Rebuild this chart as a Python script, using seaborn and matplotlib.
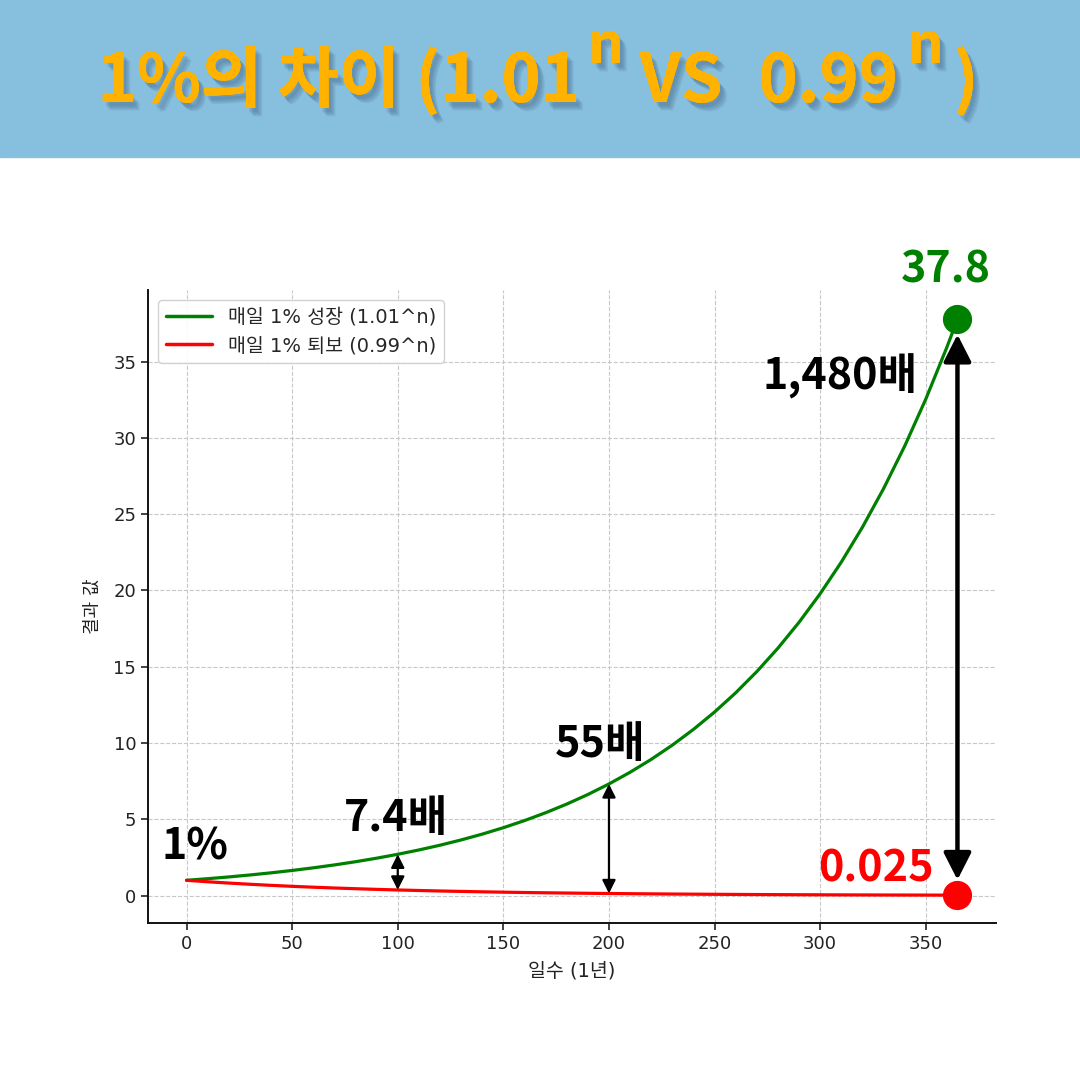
import numpy as np
import pandas as pd
import matplotlib
matplotlib.use("Agg")
import matplotlib.pyplot as plt
import matplotlib.patheffects as pe
from matplotlib.patches import Rectangle
import seaborn as sns

# ── data ────────────────────────────────────────────────────────────────────
days = [0, 10, 20, 30, 40, 50, 60, 70, 80, 90, 100, 110, 120, 130, 140, 150,
        160, 170, 180, 190, 200, 210, 220, 230, 240, 250, 260, 270, 280, 290,
        300, 310, 320, 330, 340, 350, 360, 365]
growth = [1.000, 1.105, 1.220, 1.348, 1.489, 1.645, 1.817, 2.007, 2.217, 2.449,
          2.705, 2.988, 3.300, 3.646, 4.027, 4.448, 4.914, 5.428, 5.996, 6.623,
          7.316, 8.082, 8.927, 9.861, 10.893, 12.032, 13.291, 14.682, 16.218,
          17.914, 19.789, 21.859, 24.146, 26.672, 29.462, 32.545, 35.950, 37.783]
decline = [1.000, 0.904, 0.818, 0.740, 0.669, 0.605, 0.547, 0.495, 0.448, 0.405,
           0.366, 0.331, 0.299, 0.271, 0.245, 0.221, 0.200, 0.181, 0.164, 0.148,
           0.134, 0.121, 0.110, 0.099, 0.090, 0.081, 0.073, 0.066, 0.060, 0.054,
           0.049, 0.044, 0.040, 0.036, 0.033, 0.030, 0.027, 0.0255]

LABEL_UP   = "매일 1% 성장 (1.01^n)"
LABEL_DOWN = "매일 1% 퇴보 (0.99^n)"
arrow_days   = [100, 200]
arrow_labels = ["7.4배", "55배"]
end_label_up, end_label_down, end_ratio = "37.8", "0.025", "1,480배"

GREEN, RED = "#008000", "#ff0000"
BANNER, TITLE_C = "#87bfdf", "#ffb300"
CJK = ["Noto Sans CJK KR", "DejaVu Sans"]
LATIN_FIRST = ["DejaVu Sans", "Noto Sans CJK KR"]

# ── style ───────────────────────────────────────────────────────────────────
sns.set_style("ticks")
plt.rcParams["font.family"] = LATIN_FIRST
plt.rcParams["axes.unicode_minus"] = False

df = pd.DataFrame({
    "day":   days + days,
    "value": growth + decline,
    "series": [LABEL_UP] * len(days) + [LABEL_DOWN] * len(days),
})

fig = plt.figure(figsize=(10.8, 10.8), dpi=100)
fig.patch.set_facecolor("white")

# banner
fig.patches.append(Rectangle((0, 1 - 157 / 1080), 1, 157 / 1080,
                             transform=fig.transFigure, color=BANNER, zorder=0))

ax = fig.add_axes([148 / 1080, 1 - 923 / 1080, 848 / 1080, 633 / 1080])
sns.lineplot(data=df, x="day", y="value", hue="series",
             palette={LABEL_UP: GREEN, LABEL_DOWN: RED},
             linewidth=2.3, ax=ax, zorder=3)

ax.set_xlim(-18.25, 383.25)
ax.set_ylim(-1.8, 39.7)
ax.set_xticks(range(0, 351, 50))
ax.set_yticks(range(0, 36, 5))
ax.grid(True, linestyle="--", color="#c8c8c8", linewidth=0.8)
ax.tick_params(labelsize=13, colors="#222222", length=5, width=1.2)
for s in ["top", "right"]:
    ax.spines[s].set_visible(False)
for s in ["left", "bottom"]:
    ax.spines[s].set_linewidth(1.4)
    ax.spines[s].set_color("#111111")
ax.set_xlabel("일수 (1년)", fontsize=14, color="#222222", labelpad=6)
ax.set_ylabel("결과 값", fontsize=13, color="#222222", labelpad=8)

leg = ax.legend(loc="upper left", fontsize=14, handlelength=2.4,
                frameon=True, fancybox=True, framealpha=0.9)
leg.get_frame().set_edgecolor("#cccccc")
for h in leg.get_lines():
    h.set_linewidth(2.5)

# end markers
end_day = days[-1]
ax.plot([end_day], [growth[-1]], "o", color=GREEN, markersize=20, zorder=5, clip_on=False)
ax.plot([end_day], [decline[-1]], "o", color=RED, markersize=20, zorder=5, clip_on=False)

# arrows between the curves
for d in arrow_days:
    i = days.index(d)
    ax.annotate("", xy=(d, decline[i]), xytext=(d, growth[i]),
                arrowprops=dict(arrowstyle="<|-|>,head_length=0.5,head_width=0.25",
                                color="black", lw=1.6, mutation_scale=16,
                                shrinkA=0, shrinkB=0), zorder=6)
ax.annotate("", xy=(end_day, decline[-1]), xytext=(end_day, growth[-1]),
            arrowprops=dict(arrowstyle="<|-|>,head_length=0.55,head_width=0.28",
                            color="black", lw=3.2, mutation_scale=30,
                            shrinkA=11, shrinkB=11), zorder=6)

# text annotations
big = dict(fontsize=31, fontweight="bold", family=CJK, ha="center", va="baseline")
ax.text(3.8, 2.35, "1%", color="black", **big)
ax.text(99, 4.2, arrow_labels[0], color="black", **big)
ax.text(196, 9.1, arrow_labels[1], color="black", **big)
ax.text(309.5, 33.2, end_ratio, color="black", **big)
ax.text(359.5, 40.2, end_label_up, color=GREEN, clip_on=False, **big)
ax.text(326.5, 0.92, end_label_down, color=RED, **big)

# ── title with superscripts, placed piece by piece ──────────────────────────
shadow = [pe.withSimplePatchShadow(offset=(o, -o - 1), shadow_rgbFace="#3a5a78", alpha=0.13)
          for o in (2, 3, 4, 5)] + [pe.Normal()]
pieces = [("1%의 차이 (1.01", 48, 0, 8), ("n", 40, 1, 16), ("VS", 48, 0, 36),
          ("0.99", 48, 0, 10), ("n", 40, 1, 10), (")", 48, 0, 0)]
base_y = 1 - 102 / 1080
sup_y = 1 - 63 / 1080
texts = []
for s, size, sup, gap in pieces:
    t = fig.text(0, sup_y if sup else base_y, s, fontsize=size, fontweight="bold",
                 family=CJK, color=TITLE_C, ha="left", va="baseline",
                 path_effects=shadow)
    texts.append((t, gap))
fig.canvas.draw()
r = fig.canvas.get_renderer()
widths = [t.get_window_extent(r).width for t, _ in texts]
total = sum(widths) + sum(g for _, g in texts)
x = 538 - total / 2
for (t, g), w in zip(texts, widths):
    t.set_x(x / 1080)
    x += w + g

fig.savefig("out.png", dpi=100, facecolor="white")
